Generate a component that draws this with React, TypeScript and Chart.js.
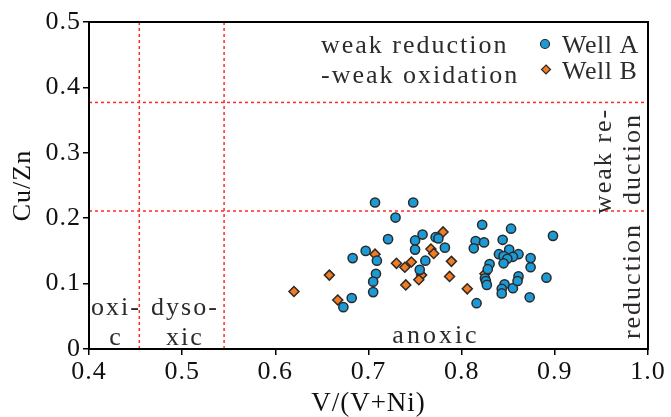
import { useEffect, useRef } from 'react';
import { Chart, registerables } from 'chart.js';

Chart.register(...registerables);

// Well A: V/(V+Ni) and Cu/Zn
const wellAX = [
  0.707, 0.729, 0.721, 0.697, 0.709, 0.683, 0.708, 0.705, 0.705, 0.682,
  0.673, 0.748, 0.822, 0.853, 0.758, 0.772, 0.775, 0.750, 0.844, 0.815,
  0.824, 0.782, 0.750, 0.813, 0.851, 0.840, 0.861, 0.845, 0.855, 0.849,
  0.874, 0.761, 0.845, 0.830, 0.874, 0.828, 0.755, 0.825, 0.861, 0.826,
  0.827, 0.846, 0.855, 0.860, 0.843, 0.843, 0.873, 0.816, 0.898, 0.891,
];
const wellAY = [
  0.224, 0.201, 0.168, 0.150, 0.135, 0.139, 0.115, 0.103, 0.087, 0.078,
  0.064, 0.224, 0.190, 0.184, 0.175, 0.171, 0.169, 0.166, 0.167, 0.165,
  0.163, 0.155, 0.152, 0.154, 0.152, 0.145, 0.145, 0.142, 0.141, 0.138,
  0.139, 0.135, 0.131, 0.130, 0.125, 0.122, 0.121, 0.108, 0.111, 0.104,
  0.098, 0.099, 0.093, 0.104, 0.092, 0.085, 0.079, 0.070, 0.173, 0.109,
];
// Well B
const wellBX = [
  0.707, 0.730, 0.739, 0.658, 0.740, 0.620, 0.667, 0.780, 0.767, 0.770,
  0.789, 0.746, 0.757, 0.754, 0.787, 0.806, 0.825,
];
const wellBY = [
  0.145, 0.131, 0.125, 0.113, 0.098, 0.088, 0.075, 0.179, 0.153, 0.146,
  0.134, 0.133, 0.113, 0.106, 0.111, 0.092, 0.115,
];
const xTickValues = [0.4, 0.5, 0.6, 0.7, 0.8, 0.9, 1.0];
const yTickValues = [0, 0.1, 0.2, 0.3, 0.4, 0.5];
const yLimits = [0.377, 0.211];
const xLimits = [0.454, 0.545];
const seriesNames = ['Well A', 'Well B'];

const SERIF = '"Liberation Serif", "Times New Roman", serif';
const BLUE = '#1C9AD6';
const ORANGE = '#F47B20';
const EDGE = '#2a2a2a';
const TEXT = '#2e2a2a';

export default function App() {
  const ref = useRef<HTMLCanvasElement | null>(null);

  useEffect(() => {
    document.body.style.margin = '0';
    let chart: Chart | null = null;
    let cancelled = false;

    const overlay = {
      id: 'overlay',
      beforeDraw(c: any) {
        c.ctx.letterSpacing = '1px';
      },
      beforeDatasetsDraw(c: any) {
        const { ctx, chartArea: a, scales } = c;
        const xs = scales.x, ys = scales.y;
        ctx.save();
        ctx.strokeStyle = '#ff2a2a';
        ctx.lineWidth = 1.5;
        ctx.setLineDash([3, 3]);
        for (const v of yLimits) {
          const py = ys.getPixelForValue(v);
          ctx.beginPath(); ctx.moveTo(a.left, py); ctx.lineTo(a.right, py); ctx.stroke();
        }
        for (const v of xLimits) {
          const px = xs.getPixelForValue(v);
          ctx.beginPath(); ctx.moveTo(px, a.top); ctx.lineTo(px, a.bottom); ctx.stroke();
        }
        ctx.restore();

        ctx.save();
        ctx.fillStyle = TEXT;
        ctx.font = `26px ${SERIF}`;
        ctx.letterSpacing = '2px';
        ctx.textBaseline = 'alphabetic';
        ctx.textAlign = 'left';
        ctx.fillText('weak reduction', 321, 53);
        ctx.fillText('-weak oxidation', 321, 83);
        ctx.textAlign = 'center';
        ctx.fillText('oxi-', 116, 315);
        ctx.fillText('c', 116, 345);
        ctx.fillText('dyso-', 185, 315);
        ctx.fillText('xic', 185, 345);
        ctx.letterSpacing = '3px';
        ctx.fillText('anoxic', 436, 343);
        ctx.letterSpacing = '2px';
        const rot = (t: string, x: number, y: number) => {
          ctx.save();
          ctx.translate(x, y);
          ctx.rotate(-Math.PI / 2);
          ctx.fillText(t, 0, 0);
          ctx.restore();
        };
        rot('weak re-', 611, 161);
        rot('duction', 640, 159);
        rot('reduction', 640, 281);
        ctx.restore();
      },
      afterDraw(c: any) {
        const { ctx, chartArea: a } = c;
        ctx.save();
        ctx.strokeStyle = '#000';
        ctx.lineWidth = 2;
        ctx.setLineDash([]);
        ctx.strokeRect(a.left, a.top, a.right - a.left, a.bottom - a.top);
        ctx.lineWidth = 1.2;
        ctx.strokeStyle = EDGE;
        ctx.fillStyle = BLUE;
        ctx.beginPath(); ctx.arc(545, 44, 4.5, 0, Math.PI * 2); ctx.fill(); ctx.stroke();
        ctx.fillStyle = ORANGE;
        ctx.beginPath();
        ctx.moveTo(546, 65); ctx.lineTo(550.5, 69.5); ctx.lineTo(546, 74); ctx.lineTo(541.5, 69.5);
        ctx.closePath(); ctx.fill(); ctx.stroke();
        ctx.fillStyle = TEXT;
        ctx.font = `26px ${SERIF}`;
        ctx.letterSpacing = '0.5px';
        ctx.textAlign = 'left';
        ctx.textBaseline = 'alphabetic';
        ctx.fillText(seriesNames[0], 562, 53);
        ctx.fillText(seriesNames[1], 562, 79);
        ctx.restore();
      },
    };

    const build = () => {
      const canvas = ref.current;
      if (!canvas || cancelled) return;
      chart = new Chart(canvas, {
        type: 'scatter',
        data: {
          datasets: [
            {
              label: seriesNames[0],
              data: wellAX.map((x, i) => ({ x, y: wellAY[i] })),
              pointStyle: 'circle',
              pointRadius: 4.6,
              backgroundColor: BLUE,
              borderColor: EDGE,
              borderWidth: 1.5,
            },
            {
              label: seriesNames[1],
              data: wellBX.map((x, i) => ({ x, y: wellBY[i] })),
              pointStyle: 'rectRot',
              pointRadius: 5,
              backgroundColor: ORANGE,
              borderColor: EDGE,
              borderWidth: 1.5,
            },
          ],
        },
        options: {
          responsive: false,
          animation: false,
          events: [],
          layout: { padding: { left: 0, top: 22, right: 23, bottom: 0 } },
          plugins: { legend: { display: false }, tooltip: { enabled: false } },
          scales: {
            x: {
              type: 'linear',
              min: 0.4,
              max: 1.0,
              afterBuildTicks: (s: any) => { s.ticks = xTickValues.map((v) => ({ value: v })); },
              afterFit: (s: any) => { s.height = 68; },
              ticks: {
                color: '#111',
                font: { family: SERIF, size: 26 },
                padding: 2,
                maxRotation: 0,
                callback: (v: any) => Number(v).toFixed(1),
              },
              grid: { display: true, drawOnChartArea: false, drawTicks: true, tickLength: 6, color: '#000', lineWidth: 1.5 },
              border: { display: false },
              title: {
                display: true,
                text: 'V/(V+Ni)',
                color: '#111',
                font: { family: SERIF, size: 27, lineHeight: 1 },
                padding: { top: 0, bottom: 0 },
              },
            },
            y: {
              type: 'linear',
              min: 0,
              max: 0.5,
              afterBuildTicks: (s: any) => { s.ticks = yTickValues.map((v) => ({ value: v })); },
              afterFit: (s: any) => { s.width = 89; },
              ticks: {
                color: '#111',
                font: { family: SERIF, size: 26 },
                padding: 2,
                callback: (v: any) => (Number(v) === 0 ? '0' : Number(v).toFixed(1)),
              },
              grid: { display: true, drawOnChartArea: false, drawTicks: true, tickLength: 6, color: '#000', lineWidth: 1.5 },
              border: { display: false },
              title: {
                display: true,
                text: 'Cu/Zn',
                color: '#111',
                font: { family: SERIF, size: 26 },
                padding: { top: 8, bottom: 0 },
              },
            },
          },
        },
        plugins: [overlay],
      });
    };

    const fontsApi = (document as any).fonts;
    if (fontsApi && fontsApi.load) {
      fontsApi.load('26px "Liberation Serif"').then(build, build);
    } else {
      build();
    }
    return () => {
      cancelled = true;
      if (chart) chart.destroy();
    };
  }, []);

  return <canvas ref={ref} width={671} height={417} style={{ display: 'block' }} />;
}
